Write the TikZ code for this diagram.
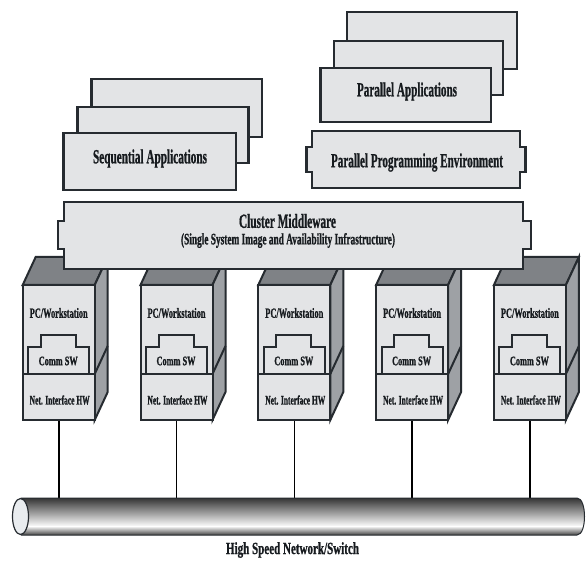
\documentclass[tikz,border=0pt]{standalone}
\usepackage{fontspec}
\setmainfont{Liberation Serif}
\newfontfamily\heavy{Liberation Serif Bold}[FakeBold=1.2]
\usepackage{graphicx}
\definecolor{edge}{HTML}{262B30}
\definecolor{boxfill}{HTML}{E3E4E6}
\definecolor{topface}{HTML}{7F8286}
\definecolor{sideface}{HTML}{9EA1A5}
\definecolor{ink}{HTML}{171B1F}
\definecolor{capfill}{HTML}{E9ECEF}
\newcommand{\fitw}[3]{\resizebox{#1pt}{\height}{\fontsize{#2}{#2}\selectfont #3}}
\begin{document}
\begin{tikzpicture}[x=1pt,y=-1pt,line join=miter,
  box/.style={draw=edge,fill=boxfill,line width=2.4pt},
  wsline/.style={draw=edge,line width=2pt},
  lbl/.style={text=ink,font=\heavy,inner sep=0pt},
  link/.style={draw=black,line width=1.6pt}]
\useasboundingbox (0,0) rectangle (586,561);
\fill[white] (0,0) rectangle (586,561);

% Sequential applications stack
\draw[box] (91.5,79) rectangle (262,137);
\draw[box] (77.5,107) rectangle (248.5,163);
\draw[box] (63.5,133) rectangle (236,190);
\node[lbl] (seq) at (150,158.5) {\fitw{114}{20}{Sequential Applications}};

% Parallel applications stack
\draw[box] (346.8,12) rectangle (516.8,69);
\draw[box] (333.7,41) rectangle (503,95);
\draw[box] (320.6,68) rectangle (490.7,122);
\node[lbl] (par) at (407,91.5) {\fitw{100}{20}{Parallel Applications}};

% Parallel programming environment
\draw[box] (312,131) -- (520,131) -- (520,147) -- (525.5,147) -- (525.5,172) -- (520,172) -- (520,188)
  -- (312,188) -- (312,172) -- (306.5,172) -- (306.5,147) -- (312,147) -- cycle;
\node[lbl] (ppe) at (417,162.5) {\fitw{172}{20}{Parallel Programming Environment}};

% Workstations
\foreach \i in {0,...,4}{
  \pgfmathsetmacro\xa{22.7+117.8*\i}
  \fill[topface,draw=edge,line width=2pt] (\xa,285) -- (\xa+13,257) -- (\xa+85,257) -- (\xa+72,285) -- cycle;
  \fill[sideface,draw=edge,line width=2pt] (\xa+72,285) -- (\xa+85,257) -- (\xa+85,392) -- (\xa+72,420) -- cycle;
  \draw[wsline] (\xa+72,374) -- (\xa+85,346);
  \draw[wsline,fill=boxfill] (\xa,285) rectangle (\xa+72,420);
  \draw[wsline] (\xa,374) -- (\xa+72,374);
  \draw[wsline] (\xa+5.5,374) -- (\xa+5.5,347) -- (\xa+18,347) -- (\xa+18,335) -- (\xa+53,335)
     -- (\xa+53,347) -- (\xa+66.5,347) -- (\xa+66.5,374);
  \node[lbl] (pc\i) at (\xa+36,313) {\fitw{58}{14}{PC/Workstation}};
  \node[lbl] (comm\i) at (\xa+35.5,361) {\fitw{39}{13}{Comm SW}};
  \node[lbl] (nic\i) at (\xa+37,400) {\fitw{60}{13}{Net. Interface HW}};
  \coordinate (wsb\i) at (\xa+36,421);
  \coordinate (tap\i) at (\xa+36,499);
  \draw[link] (wsb\i) -- (tap\i);
}

% Cluster middleware
\draw[box] (64,202) -- (523,202) -- (523,221) -- (531,221) -- (531,249) -- (523,249) -- (523,269)
  -- (64,269) -- (64,249) -- (58,249) -- (58,221) -- (64,221) -- cycle;
\node[lbl] (cm) at (287.5,221) {\fitw{97}{20}{Cluster Middleware}};
\node[lbl] (ssi) at (288,240.5) {\fitw{214}{16}{(Single System Image and Availability Infrastructure)}};

% High speed network cable
\begin{scope}
  \clip (21,498) -- (577,498) .. controls (587,498) and (587,535) .. (577,535) -- (21,535) -- cycle;
  \shade[top color=black!82, middle color=black!45, bottom color=white] (10,497) rectangle (590,526.5);
  \shade[top color=white, bottom color=black!82] (10,526) rectangle (590,536);
\end{scope}
\draw[draw=edge,line width=1pt] (21,498) -- (577,498) .. controls (587,498) and (587,535) .. (577,535) -- (21,535);
\draw[fill=capfill,draw=edge,line width=1.2pt] (20.5,516.5) ellipse [x radius=8, y radius=18];
\node[lbl] (net) at (292.5,550) {\fitw{133}{17}{High Speed Network/Switch}};
\end{tikzpicture}
\end{document}
